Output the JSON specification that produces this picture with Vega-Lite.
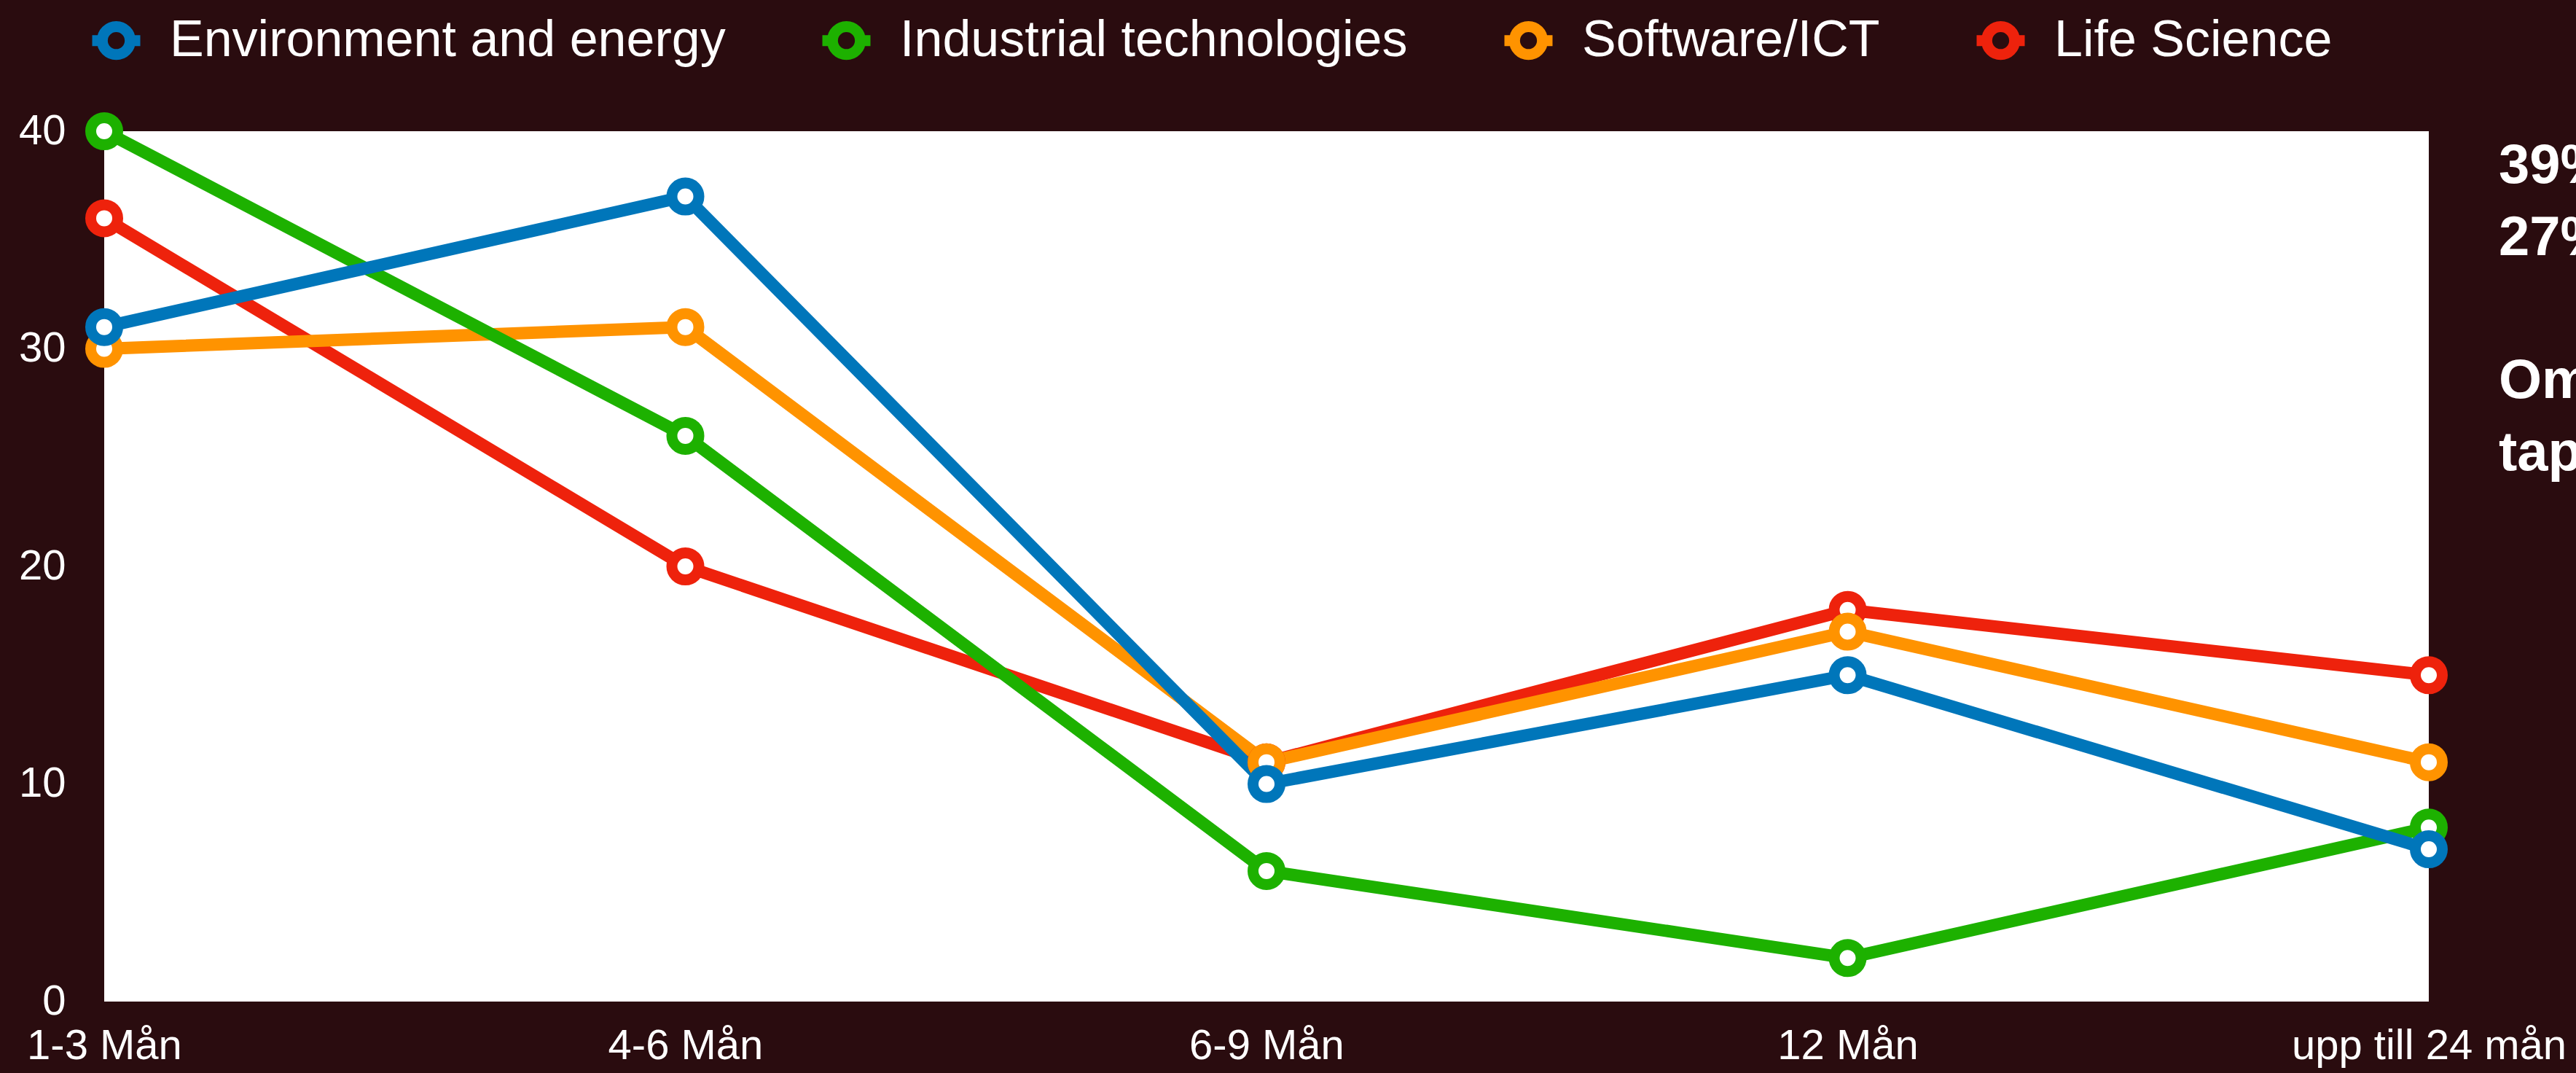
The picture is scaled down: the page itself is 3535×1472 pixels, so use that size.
{
  "$schema": "https://vega.github.io/schema/vega-lite/v6.json",
  "autosize": {"type": "none"},
  "width": 3190,
  "height": 1194,
  "padding": {"left": 143, "top": 180, "right": 202, "bottom": 98},
  "background": "#2a0c0f",
  "config": {
    "view": {"fill": "white", "stroke": null},
    "font": "Liberation Sans"
  },
  "datasets": {
    "series": [
      {"period": "1-3 Mån", "sector": "Life Science", "value": 36},
      {"period": "4-6 Mån", "sector": "Life Science", "value": 20},
      {"period": "6-9 Mån", "sector": "Life Science", "value": 11},
      {"period": "12 Mån", "sector": "Life Science", "value": 18},
      {"period": "upp till 24 mån", "sector": "Life Science", "value": 15},
      {"period": "1-3 Mån", "sector": "Software/ICT", "value": 30},
      {"period": "4-6 Mån", "sector": "Software/ICT", "value": 31},
      {"period": "6-9 Mån", "sector": "Software/ICT", "value": 11},
      {"period": "12 Mån", "sector": "Software/ICT", "value": 17},
      {"period": "upp till 24 mån", "sector": "Software/ICT", "value": 11},
      {"period": "1-3 Mån", "sector": "Industrial technologies", "value": 40},
      {"period": "4-6 Mån", "sector": "Industrial technologies", "value": 26},
      {"period": "6-9 Mån", "sector": "Industrial technologies", "value": 6},
      {"period": "12 Mån", "sector": "Industrial technologies", "value": 2},
      {"period": "upp till 24 mån", "sector": "Industrial technologies", "value": 8},
      {"period": "1-3 Mån", "sector": "Environment and energy", "value": 31},
      {"period": "4-6 Mån", "sector": "Environment and energy", "value": 37},
      {"period": "6-9 Mån", "sector": "Environment and energy", "value": 10},
      {"period": "12 Mån", "sector": "Environment and energy", "value": 15},
      {"period": "upp till 24 mån", "sector": "Environment and energy", "value": 7}
    ],
    "notes": [
      {"note": "39%\n27%", "anchor": 37.62},
      {"note": "Om\ntap", "anchor": 27.74}
    ]
  },
  "layer": [
    {
      "data": {"name": "series"},
      "mark": {"type": "line", "strokeWidth": 17, "strokeJoin": "round", "strokeCap": "butt"},
      "encoding": {
        "x": {
          "field": "period", "type": "ordinal",
          "sort": ["1-3 Mån", "4-6 Mån", "6-9 Mån", "12 Mån", "upp till 24 mån"],
          "scale": {"type": "point", "padding": 0},
          "axis": {"title": null, "labelAngle": 0, "domain": false, "ticks": false, "grid": false,
                   "labelFontSize": 58, "labelColor": "white", "labelPadding": 32, "labelOverlap": false, "labelLimit": 0}
        },
        "y": {
          "field": "value", "type": "quantitative",
          "scale": {"domain": [0, 40], "nice": false, "zero": true},
          "axis": {"title": null, "values": [0, 10, 20, 30, 40], "grid": false, "domain": false, "ticks": false,
                   "labelFontSize": 58, "labelColor": "white", "labelPadding": 53}
        },
        "color": {
          "field": "sector", "type": "nominal",
          "scale": {
            "domain": ["Environment and energy", "Industrial technologies", "Software/ICT", "Life Science"],
            "range": ["#0076BA", "#1DB100", "#FF9300", "#EE220C"]
          },
          "legend": {
            "title": null, "orient": "none", "legendX": -24, "legendY": -165, "direction": "horizontal",
            "symbolType": "M-1,0L-0.58,0M1,0L0.58,0M0.58,0A0.58,0.58,0,1,1,-0.58,0A0.58,0.58,0,1,1,0.58,0",
            "symbolSize": 4356, "symbolStrokeWidth": 15, "symbolFillColor": "transparent",
            "labelFontSize": 70, "labelColor": "white", "labelOffset": 33, "columnPadding": 102,
            "labelLimit": 0, "symbolOpacity": 1,
            "encode": {"symbols": {"update": {"fill": {"value": "transparent"}, "strokeWidth": {"value": 15}}}}
          }
        }
      }
    },
    {
      "data": {"name": "series"},
      "mark": {"type": "point", "shape": "circle", "size": 1369, "strokeWidth": 15, "filled": false, "fill": "white", "opacity": 1},
      "encoding": {
        "x": {"field": "period", "type": "ordinal", "sort": ["1-3 Mån", "4-6 Mån", "6-9 Mån", "12 Mån", "upp till 24 mån"]},
        "y": {"field": "value", "type": "quantitative"},
        "color": {"field": "sector", "type": "nominal"}
      }
    },
    {
      "data": {"name": "notes"},
      "mark": {"type": "text", "lineBreak": "\n", "align": "left", "baseline": "alphabetic", "dx": 96,
               "fontSize": 76, "fontWeight": "bold", "color": "white", "lineHeight": 99},
      "encoding": {
        "x": {"datum": "upp till 24 mån"},
        "y": {"field": "anchor", "type": "quantitative"},
        "text": {"field": "note"}
      }
    }
  ]
}
